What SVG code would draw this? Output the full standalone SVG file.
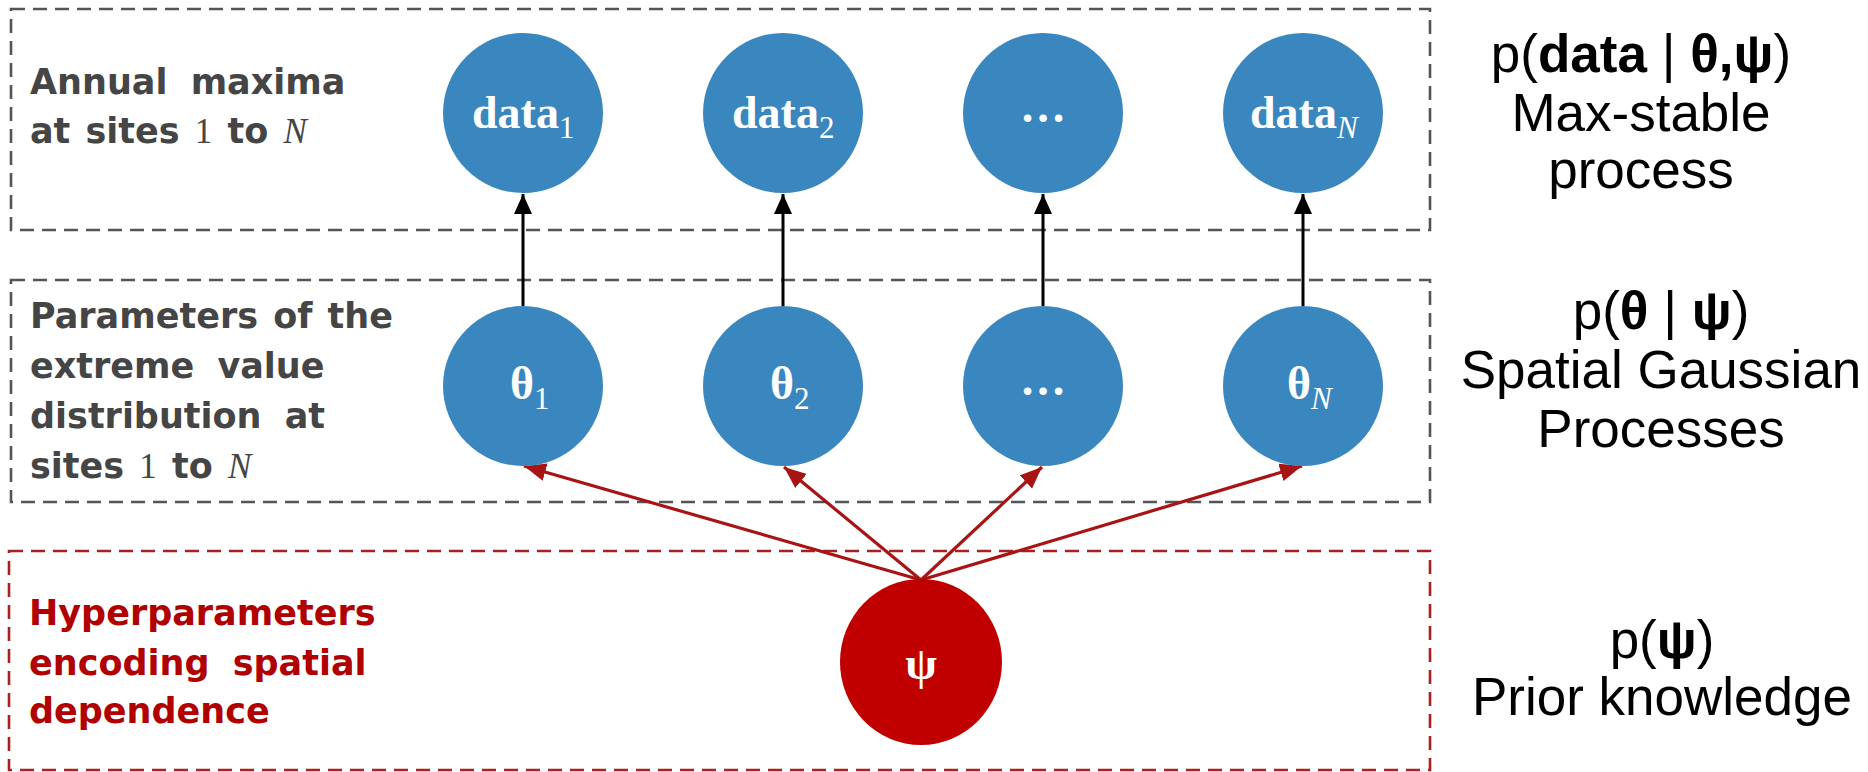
<svg xmlns="http://www.w3.org/2000/svg" width="1868" height="772" viewBox="0 0 1868 772">
<defs>
<style>
.box{fill:none;stroke:#555;stroke-width:2.6;stroke-dasharray:14 8}
.rbox{fill:none;stroke:#A82020;stroke-width:2.6;stroke-dasharray:14 8}
.node{fill:#3A87C0}
.hnode{fill:#C00000}
.lbl{font-family:"DejaVu Sans",sans-serif;font-weight:bold;font-size:35px;fill:#454545;word-spacing:3px}
.rlbl{font-family:"DejaVu Sans",sans-serif;font-weight:bold;font-size:35px;fill:#B00000;word-spacing:3px}
.wide{word-spacing:11px}
.math{font-family:"Liberation Serif",serif;font-weight:normal}
.ntxt{font-family:"Liberation Serif",serif;font-weight:bold;font-size:46px;fill:#fff}
.sub{font-weight:normal;font-size:31px}
.eq{font-family:"Liberation Sans",Arial,sans-serif;font-size:53px;fill:#000;text-anchor:middle}
.b{font-weight:bold}
.blk{stroke:#000;stroke-width:3;fill:none}
.red{stroke:#A81414;stroke-width:3.2;fill:none}
</style>
<marker id="ahb" viewBox="0 0 20 18" refX="20" refY="9" markerWidth="20" markerHeight="18" markerUnits="userSpaceOnUse" orient="auto"><path d="M0,0 L20,9 L0,18 z" fill="#000"/></marker>
<marker id="ahr" viewBox="0 0 22 18" refX="22" refY="9" markerWidth="22" markerHeight="18" markerUnits="userSpaceOnUse" orient="auto"><path d="M0,0 L22,9 L0,18 z" fill="#A81414"/></marker>
</defs>
<rect width="1868" height="772" fill="#fff"/>

<g id="layer-data">
<rect class="box" x="11" y="9" width="1419" height="221"/>
<text class="lbl wide" x="30" y="94">Annual maxima</text>
<text class="lbl" x="30" y="143">at sites <tspan class="math">1</tspan> to <tspan class="math" font-style="italic">N</tspan></text>
</g>
<g id="layer-theta">
<rect class="box" x="11" y="280" width="1419" height="222"/>
<text class="lbl" x="30" y="328">Parameters of the</text>
<text class="lbl wide" x="30" y="378">extreme value</text>
<text class="lbl wide" x="30" y="428">distribution at</text>
<text class="lbl" x="30" y="478">sites <tspan class="math">1</tspan> to <tspan class="math" font-style="italic">N</tspan></text>
</g>
<g id="layer-psi">
<rect class="rbox" x="9" y="551" width="1421" height="219"/>
<text class="rlbl" x="29" y="625">Hyperparameters</text>
<text class="rlbl wide" x="29" y="675">encoding spatial</text>
<text class="rlbl" x="29" y="723">dependence</text>
</g>

<g id="connectors">
<line class="blk" x1="523" y1="306" x2="523" y2="194" marker-end="url(#ahb)"/>
<line class="blk" x1="783" y1="306" x2="783" y2="194" marker-end="url(#ahb)"/>
<line class="blk" x1="1043" y1="306" x2="1043" y2="194" marker-end="url(#ahb)"/>
<line class="blk" x1="1303" y1="306" x2="1303" y2="194" marker-end="url(#ahb)"/>
<line class="red" x1="921" y1="580" x2="524" y2="466" marker-end="url(#ahr)"/>
<line class="red" x1="921" y1="580" x2="784" y2="467" marker-end="url(#ahr)"/>
<line class="red" x1="921" y1="580" x2="1042" y2="467" marker-end="url(#ahr)"/>
<line class="red" x1="921" y1="580" x2="1302" y2="466" marker-end="url(#ahr)"/>
</g>

<g id="node-data1"><circle class="node" cx="523" cy="113" r="80"/><text class="ntxt" x="472" y="128">data<tspan class="sub" dy="10">1</tspan></text></g>
<g id="node-data2"><circle class="node" cx="783" cy="113" r="80"/><text class="ntxt" x="732" y="128">data<tspan class="sub" dy="10">2</tspan></text></g>
<g id="node-data-dots"><circle class="node" cx="1043" cy="113" r="80"/><text class="ntxt" x="1043" y="122" text-anchor="middle" font-size="42">…</text></g>
<g id="node-dataN"><circle class="node" cx="1303" cy="113" r="80"/><text class="ntxt" x="1250" y="128">data<tspan class="sub" dy="10" font-style="italic">N</tspan></text></g>

<g id="node-theta1"><circle class="node" cx="523" cy="386" r="80"/><text class="ntxt" x="510" y="399">θ<tspan class="sub" dy="10">1</tspan></text></g>
<g id="node-theta2"><circle class="node" cx="783" cy="386" r="80"/><text class="ntxt" x="770" y="399">θ<tspan class="sub" dy="10">2</tspan></text></g>
<g id="node-theta-dots"><circle class="node" cx="1043" cy="386" r="80"/><text class="ntxt" x="1043" y="395" text-anchor="middle" font-size="42">…</text></g>
<g id="node-thetaN"><circle class="node" cx="1303" cy="386" r="80"/><text class="ntxt" x="1287" y="399">θ<tspan class="sub" dy="10" font-style="italic">N</tspan></text></g>

<g id="node-psi"><ellipse class="hnode" cx="921" cy="662" rx="81" ry="83"/><text class="ntxt" x="921" y="679" text-anchor="middle" font-weight="normal" font-size="46">ψ</text></g>

<g id="eq-data">
<text class="eq" x="1641" y="72">p(<tspan class="b">data</tspan> | <tspan class="b">θ,ψ</tspan>)</text>
<text class="eq" x="1641" y="131">Max-stable</text>
<text class="eq" x="1641" y="188">process</text>
</g>
<g id="eq-theta">
<text class="eq" x="1661" y="329">p(<tspan class="b">θ</tspan> | <tspan class="b">ψ</tspan>)</text>
<text class="eq" x="1661" y="388">Spatial Gaussian</text>
<text class="eq" x="1661" y="447">Processes</text>
</g>
<g id="eq-psi">
<text class="eq" x="1662" y="658">p(<tspan class="b">ψ</tspan>)</text>
<text class="eq" x="1662" y="715">Prior knowledge</text>
</g>
</svg>
